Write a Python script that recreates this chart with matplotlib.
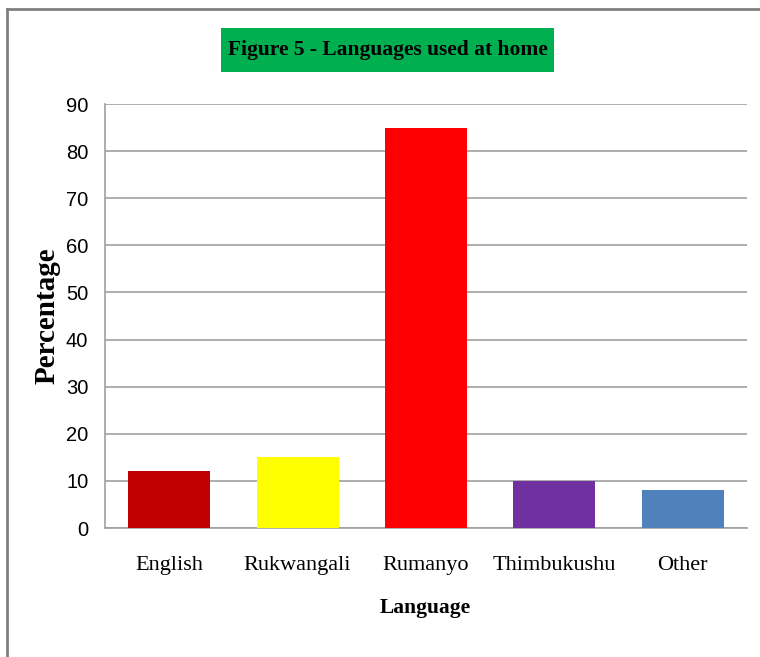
import matplotlib
matplotlib.use("Agg")
import matplotlib.pyplot as plt
from matplotlib.patches import Rectangle
from matplotlib.lines import Line2D

categories = ["English", "Rukwangali", "Rumanyo", "Thimbukushu", "Other"]
values = [12, 15, 85, 10, 8]
colors = ["#C00000", "#FFFF00", "#FF0000", "#7030A0", "#4F81BD"]
yticks = [0, 10, 20, 30, 40, 50, 60, 70, 80, 90]

W, H = 760, 657
fig = plt.figure(figsize=(W / 100, H / 100), dpi=100)
fig.patch.set_facecolor("white")

ax = fig.add_axes([105 / W, 1 - 528 / H, (747 - 105) / W, (528 - 104) / H])
x = list(range(len(categories)))
ax.bar(x, values, width=0.64, color=colors, zorder=3)
ax.set_xlim(-0.5, len(categories) - 0.5)
ax.set_ylim(0, 90)
ax.set_yticks(yticks)
ax.set_yticklabels([str(v) for v in yticks], fontfamily="Liberation Sans", fontsize=14.5)
ax.set_xticks(x)
ax.set_xticklabels(categories, fontfamily="Liberation Serif", fontsize=16)
ax.tick_params(axis="y", length=0, pad=12)
ax.tick_params(axis="x", length=0, pad=20)
grid_c = "#A0A0A0"
ax.yaxis.grid(True, color=grid_c, linewidth=1.2, zorder=0)
ax.set_axisbelow(True)
for s in ["top", "right"]:
    ax.spines[s].set_visible(False)
for s in ["left", "bottom"]:
    ax.spines[s].set_color(grid_c)
    ax.spines[s].set_linewidth(1.2)

# axis labels
fig.text(425 / W, 1 - 608 / H, "Language", ha="center", va="center",
         fontfamily="Liberation Serif", fontweight="bold", fontsize=15.5)
fig.text(47 / W, 1 - 316 / H, "Percentage", ha="center", va="center", rotation=90,
         fontfamily="Liberation Serif", fontweight="bold", fontsize=21)

# title in green box
fig.patches.append(Rectangle((221 / W, 1 - 72 / H), (554 - 221) / W, (72 - 28) / H,
                             transform=fig.transFigure, facecolor="#00B050",
                             edgecolor="none", zorder=1))
fig.text(388 / W, 1 - 50 / H, "Figure 5 - Languages used at home", ha="center", va="center",
         fontfamily="Liberation Serif", fontweight="bold", fontsize=15.5, zorder=2)

# figure border (top and left)
border_c = "#808080"
fig.lines.append(Line2D([7 / W, 1.0], [1 - 9 / H, 1 - 9 / H], transform=fig.transFigure,
                        color=border_c, linewidth=2))
fig.lines.append(Line2D([7 / W, 7 / W], [1 - 9 / H, 0.0], transform=fig.transFigure,
                        color=border_c, linewidth=2))

fig.savefig("out.png", dpi=100)
